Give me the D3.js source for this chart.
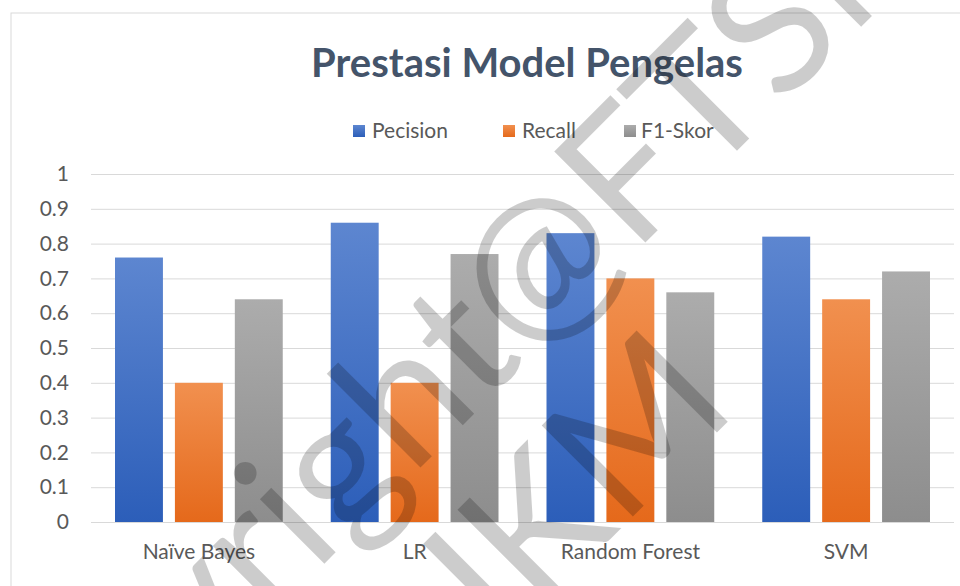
<!DOCTYPE html>
<html>
<head>
<meta charset="utf-8">
<script src="https://cdn.jsdelivr.net/npm/d3@7"></script>
<style>
  body { margin: 0; background: #fff; }
  svg { display: block; font-family: Lato, "Open Sans", sans-serif; }
</style>
</head>
<body>
<div id="chart"></div>
<script>
// data
var categories = ["Naïve Bayes", "LR", "Random Forest", "SVM"]
var series = ["Pecision", "Recall", "F1-Skor"]
var precision = [0.76, 0.86, 0.83, 0.82]
var recall = [0.40, 0.40, 0.70, 0.64]
var f1 = [0.64, 0.77, 0.66, 0.72]
var yTicks = [0, 0.1, 0.2, 0.3, 0.4, 0.5, 0.6, 0.7, 0.8, 0.9, 1]
var title = "Prestasi Model Pengelas"

var width = 960, height = 586
var plot = {left: 91, right: 954, top: 174, bottom: 522}

// colours: [top, bottom] of each bar gradient
var colors = [["#5d86d0", "#2c5eb9"], ["#f1904f", "#e5691b"], ["#acacac", "#8d8d8d"]]

var values = series.map(function(s, i){ return [precision, recall, f1][i] })

var svg = d3.select("#chart").append("svg")
    .attr("width", width)
    .attr("height", height)

// gradients for bars
var defs = svg.append("defs")
colors.forEach(function(c, i){
    var g = defs.append("linearGradient")
        .attr("id", "grad" + i)
        .attr("x1", 0).attr("y1", 0).attr("x2", 0).attr("y2", 1)
    g.append("stop").attr("offset", "0%").attr("stop-color", c[0])
    g.append("stop").attr("offset", "100%").attr("stop-color", c[1])
})

// outer frame of the chart area
svg.append("rect")
    .attr("x", 11).attr("y", 13)
    .attr("width", 960).attr("height", 600)
    .attr("fill", "none")
    .attr("stroke", "#d9d9d9")
    .attr("stroke-width", 1)

var x0 = d3.scaleBand().domain(categories).range([plot.left, plot.right]).padding(0)
var x1 = d3.scaleBand().domain(series).range([24, x0.bandwidth() - 24]).paddingInner(0.2)
var y = d3.scaleLinear().domain([0, 1]).range([plot.bottom, plot.top])

// grid lines
svg.append("g")
    .attr("transform", "translate(" + plot.left + ",0)")
    .call(d3.axisLeft(y).tickValues(yTicks).tickSize(-(plot.right - plot.left)).tickFormat(""))
    .call(function(g){
        g.select(".domain").remove()
        g.selectAll(".tick line").attr("stroke", "#d9d9d9").attr("stroke-width", 1)
    })

// y tick labels
svg.append("g")
    .attr("transform", "translate(69,0)")
    .call(d3.axisLeft(y).tickValues(yTicks).tickSize(0).tickPadding(0).tickFormat(d3.format("")))
    .call(function(g){
        g.select(".domain").remove()
        g.selectAll("text")
            .attr("fill", "#595959")
            .style("font-size", "21px")
            .style("font-family", "Lato, sans-serif")
    })

// bars
var groups = svg.append("g").selectAll("g")
    .data(categories)
    .enter().append("g")
    .attr("transform", function(d){ return "translate(" + x0(d) + ",0)" })

groups.selectAll("rect")
    .data(function(d, ci){ return series.map(function(s, si){ return {s: s, si: si, v: values[si][ci]} }) })
    .enter().append("rect")
    .attr("x", function(d){ return x1(d.s) })
    .attr("y", function(d){ return y(d.v) })
    .attr("width", x1.bandwidth())
    .attr("height", function(d){ return y(0) - y(d.v) })
    .attr("fill", function(d){ return "url(#grad" + d.si + ")" })

// category labels
svg.append("g")
    .attr("transform", "translate(0," + plot.bottom + ")")
    .call(d3.axisBottom(x0).tickSize(0).tickPadding(22))
    .call(function(g){
        g.select(".domain").remove()
        g.selectAll("text")
            .attr("fill", "#595959")
            .style("font-size", "21px")
            .style("font-family", "Lato, sans-serif")
    })

// title
svg.append("text")
    .attr("x", 527).attr("y", 77)
    .attr("text-anchor", "middle")
    .attr("fill", "#44546a")
    .style("font-size", "40px")
    .style("font-weight", "bold")
    .text(title)

// legend
var legendX = [353, 503, 624]
var legend = svg.append("g").selectAll("g")
    .data(series)
    .enter().append("g")
    .attr("transform", function(d, i){ return "translate(" + legendX[i] + ",131)" })
legend.append("rect")
    .attr("x", 0).attr("y", -6)
    .attr("width", 12).attr("height", 12)
    .attr("fill", function(d, i){ return "url(#grad" + i + ")" })
legend.append("text")
    .attr("x", function(d, i){ return i == 2 ? 17 : 19 })
    .attr("y", 7)
    .attr("fill", "#595959")
    .style("font-size", "21px")
    .text(function(d){ return d })

// watermark
var wm = svg.append("g")
    .attr("transform", "translate(538,265) rotate(-45)")
    .style("pointer-events", "none")
var wm1 = wm.append("text")
    .attr("fill", "#000")
    .attr("fill-opacity", 0.2)
    .style("font-size", "180px")
    .style("font-family", "Lato, sans-serif")
    .text("Copyright@FTSM")
var pre = wm1.node().getSubStringLength(0, 9)
var at = wm1.node().getSubStringLength(9, 1)
wm1.attr("x", -(pre + at / 2)).attr("y", 60)
wm.append("text")
    .attr("x", 40).attr("y", 245)
    .attr("text-anchor", "end")
    .attr("fill", "#000")
    .attr("fill-opacity", 0.2)
    .style("font-size", "180px")
    .style("font-family", "Lato, sans-serif")
    .text("UKM")
</script>
</body>
</html>
